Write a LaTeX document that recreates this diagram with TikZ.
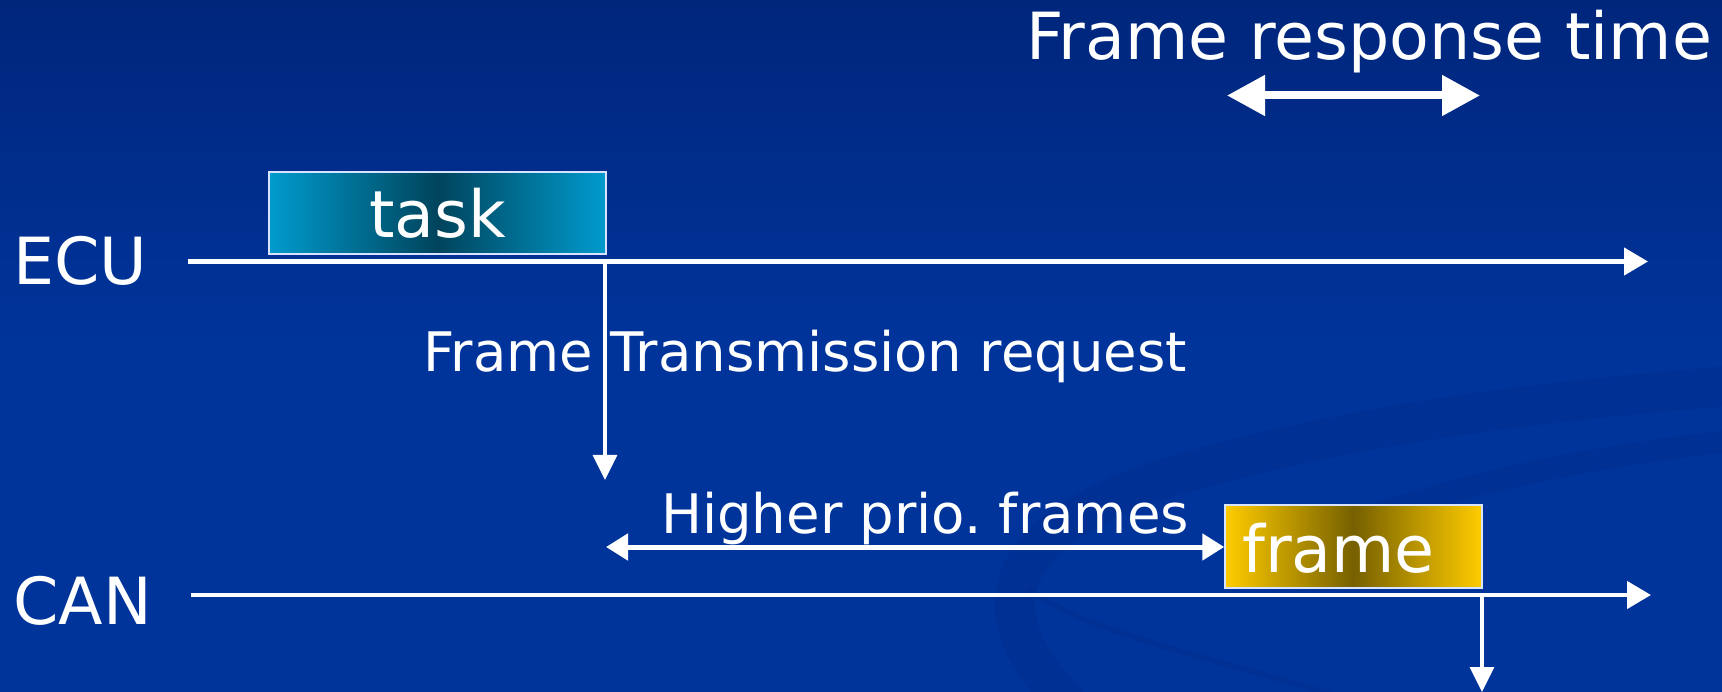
\documentclass[tikz,border=0pt]{standalone}
\usepackage{fontspec}
\setmainfont{DejaVu Sans}
\usetikzlibrary{arrows.meta}
\definecolor{bgtop}{RGB}{0,38,124}
\definecolor{bgbot}{RGB}{0,52,155}
\definecolor{swooshc}{RGB}{0,28,105}
\definecolor{tasklight}{RGB}{0,155,205}
\definecolor{taskdark}{RGB}{0,68,92}
\definecolor{framelight}{RGB}{255,204,0}
\definecolor{framedark}{RGB}{118,96,0}
\definecolor{boxedge}{RGB}{215,228,255}
\frenchspacing
\begin{document}
\begin{tikzpicture}[x=1pt,y=-1pt,
  big/.style={font=\fontsize{65}{72}\selectfont, text=white, inner sep=0pt},
  mid/.style={font=\fontsize{54.5}{60}\selectfont, text=white, inner sep=0pt},
  axisline/.style={draw=white, line width=4.5pt, -{Triangle[length=24pt,width=27pt]}},
  reqarrow/.style={draw=white, line width=3.5pt, -{Triangle[length=25pt,width=24pt]}},
  prioarrow/.style={draw=white, line width=5pt, {Triangle[length=22pt,width=26pt]}-{Triangle[length=22pt,width=26pt]}},
  resparrow/.style={draw=white, line width=8pt, {Triangle[length=38pt,width=39pt]}-{Triangle[length=38pt,width=39pt]}},
  taskbox/.style={draw=boxedge, line width=1.5pt, left color=tasklight, right color=tasklight, middle color=taskdark,
    minimum width=337pt, minimum height=82pt, inner sep=0pt, text=white, font=\fontsize{65}{72}\selectfont},
  framebox/.style={draw=boxedge, line width=1.5pt, left color=framelight, right color=framelight, middle color=framedark,
    minimum width=257pt, minimum height=83pt, inner sep=0pt},
  swoosh/.style={draw=swooshc, draw opacity=0.13, line cap=round}
]
\useasboundingbox (0,0) rectangle (1722,692);
% background
\shade[top color=bgtop, bottom color=bgbot, middle color=bgbot] (0,0) rectangle (1722,692);
\draw[swoosh, line width=40pt] (1065,700) .. controls (985,620) and (990,535) .. (1160,480)
  .. controls (1360,420) and (1560,400) .. (1740,385);
\draw[swoosh, line width=22pt] (1330,530) .. controls (1470,480) and (1600,455) .. (1740,440);
\draw[swoosh, line width=6pt] (1030,590) .. controls (1100,640) and (1250,665) .. (1345,700);

% labels
\node[big, anchor=base west] (title) at (1026,60) {Frame response time};
\node[big, anchor=base west] (ecu) at (13,285) {ECU};
\node[big, anchor=base west] (can) at (13,624) {CAN};

% time lines
\coordinate (ecuS) at (188,261.5);
\coordinate (ecuE) at (1648,261.5);
\coordinate (canS) at (191,595);
\coordinate (canE) at (1651,595);
\draw[axisline] (ecuS) -- (ecuE);
\draw[axisline] (canS) -- (canE);

% boxes
\node[taskbox] (task) at (437.5,213) {task};
\node[framebox] (frame) at (1353.5,546.5) {};
\node[big, anchor=base west] (frametext) at (1242,572) {frame};

% response time arrow
\coordinate (rL) at (1227,95.5);
\coordinate (rR) at (1480,95.5);
\draw[resparrow] (rL) -- (rR);

% transmission request
\coordinate (reqS) at (605,264);
\coordinate (reqE) at (605,480);
\draw[reqarrow] (reqS) -- (reqE);
\node[mid, anchor=base west] (reqtext) at (423,372) {Frame Transmission request};

% higher prio frames
\coordinate (pL) at (606,547);
\draw[prioarrow] (pL) -- (frame.west |- pL);
\node[mid, anchor=base west] (priotext) at (661,533) {Higher prio. frames};

% frame response
\coordinate (fS) at (1482,597);
\coordinate (fE) at (1482,692);
\draw[reqarrow] (fS) -- (fE);
\end{tikzpicture}
\end{document}
